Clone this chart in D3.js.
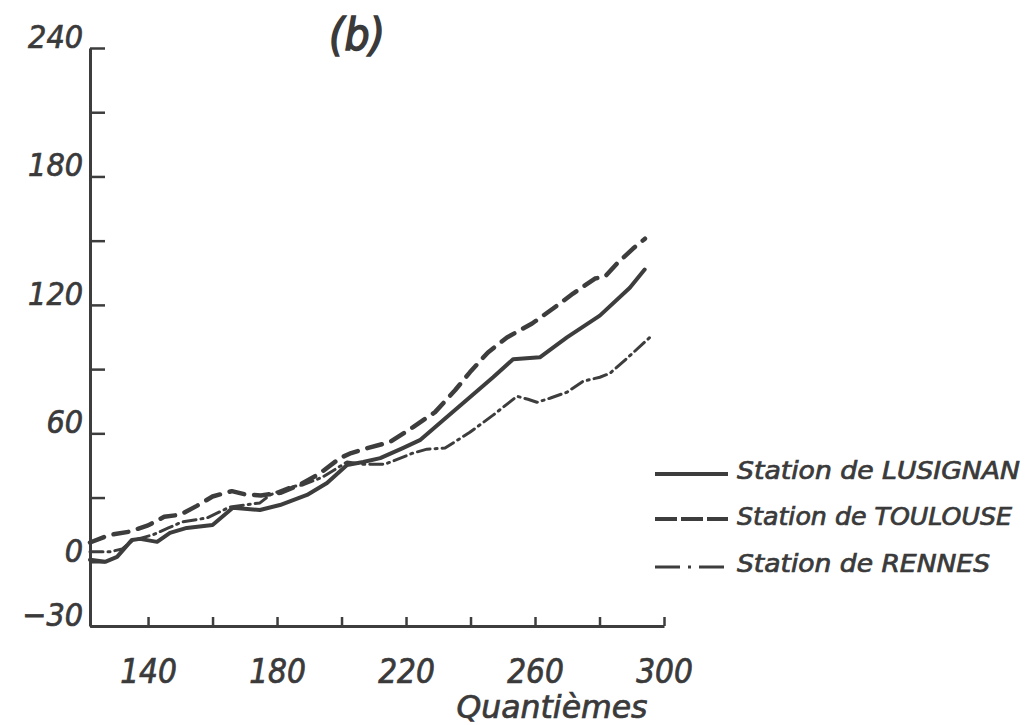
<!DOCTYPE html>
<html>
<head>
<meta charset="utf-8">
<script src="https://cdn.jsdelivr.net/npm/d3@7"></script>
<style>
  html, body { margin: 0; padding: 0; background: #fff; }
  svg { display: block; }
  text { font-family: "DejaVu Sans Condensed", "DejaVu Sans", "Liberation Sans", sans-serif; font-style: italic; fill: #3a3a3a; stroke: #3a3a3a; stroke-width: 0.7px; }
</style>
</head>
<body>
<svg id="chart" width="1029" height="725"></svg>
<script>
// ---- data ----
const xTicks = [140, 160, 180, 200, 220, 240, 260, 280, 300];
const xTickLabels = [140, 180, 220, 260, 300];
const yTicks = [-30, 0, 30, 60, 90, 120, 150, 180, 210, 240];
const yTickLabels = [-30, 0, 60, 120, 180, 240];

const seriesNames = ["Station de LUSIGNAN", "Station de TOULOUSE", "Station de RENNES"];

const lusignanX = [122, 126.7, 130.4, 135, 137.5, 142.8, 146.8, 152, 160, 166.3, 174.7, 180.9, 189.3, 195.5, 201.7, 206.7, 212, 219, 224.3, 231.5, 239.8, 247, 253.2, 261.5, 269.9, 280.1, 289.4, 294];
const lusignanY = [0.9, 0, 2.3, 10.2, 10.7, 9.3, 13.5, 15.8, 17.2, 25.2, 24.2, 26.5, 31.2, 36.8, 45.2, 46.6, 48.4, 53.1, 56.8, 66.1, 76.9, 86.2, 94.6, 95.5, 104.8, 115, 128, 136.5];

const toulouseX = [122, 128, 134, 140, 145, 150, 155, 160, 166, 170, 175, 181, 187, 193, 199.5, 203, 208, 215, 222.2, 229, 235.2, 239.8, 245.4, 251.3, 259.1, 265.6, 271.8, 278.6, 281.7, 285.4, 290.4, 294.1];
const toulouseY = [9, 12.5, 14, 17, 21, 22, 26, 30.5, 33, 31.5, 31, 32.2, 35.9, 41, 48.4, 50.8, 53.1, 55.9, 62.9, 69.9, 80.1, 88.5, 97.8, 104.8, 111.3, 118.3, 125.3, 132.3, 133.2, 139.3, 146.3, 150.9];

const rennesX = [122, 128.2, 132, 135.3, 141.5, 146.3, 150.5, 158.3, 165.4, 174.7, 177.8, 184, 188, 194.2, 201.7, 207, 213.5, 222.2, 226.5, 232.1, 239.8, 247, 254.4, 257.8, 260.6, 264.6, 269.9, 274.9, 280.1, 283.2, 288.5, 295.6];
const rennesY = [4.7, 4.7, 6, 10, 12.6, 15.8, 18.6, 20.5, 25.6, 27.5, 31.2, 34.9, 35.9, 39.6, 46.6, 45.5, 45.6, 50.8, 52.6, 53.1, 60.5, 68.5, 77.3, 75.9, 74.5, 76.4, 79.2, 84.3, 86.2, 88, 95, 104.8];

// ---- layout ----
const ink = "#3d3d3d";
const svg = d3.select("#chart");
const x = d3.scaleLinear().domain([122, 300]).range([90, 664]);
const y = d3.scaleLinear().domain([-30, 240]).range([626, 48]);

// y axis
const yAxis = d3.axisLeft(y)
  .tickValues(yTicks)
  .tickSize(-15)
  .tickSizeOuter(0)
  .tickPadding(7)
  .tickFormat(d => yTickLabels.includes(d) ? d3.format("")(d).replace("-", "\u2212") : "");
const gy = svg.append("g").attr("transform", `translate(${x(122)},0)`).call(yAxis);
gy.select(".domain").attr("stroke", ink).attr("stroke-width", 3);
gy.selectAll(".tick line").attr("stroke", ink).attr("stroke-width", 2.5);
gy.selectAll(".tick text")
  .attr("fill", ink)
  .style("font-size", "32px")
  .attr("y", -11);

// x axis
const xAxis = d3.axisBottom(x)
  .tickValues(xTicks)
  .tickSize(-9)
  .tickSizeOuter(0)
  .tickFormat(d => xTickLabels.includes(d) ? d : "");
const gx = svg.append("g").attr("transform", `translate(0,${y(-30)})`).call(xAxis);
gx.select(".domain").attr("stroke", ink).attr("stroke-width", 3);
gx.selectAll(".tick line").attr("stroke", ink).attr("stroke-width", 2.5);
gx.selectAll(".tick text")
  .attr("fill", ink)
  .style("font-size", "33px")
  .attr("y", 57)
  .attr("dy", null);

// axis title
svg.append("text")
  .attr("x", 552).attr("y", 718)
  .attr("text-anchor", "middle")
  .attr("textLength", 191).attr("lengthAdjust", "spacingAndGlyphs")
  .style("font-size", "32px")
  .text("Quantièmes");

// panel label
svg.append("text")
  .attr("x", 357).attr("y", 50)
  .attr("text-anchor", "middle")
  .style("font-size", "44px")
  .style("stroke-width", "1.5px")
  .text("(b)");

// lines
const styles = [
  { dash: null, width: 4, legendDash: null },
  { dash: "15,10", width: 4.5, legendDash: "22,4" },
  { dash: "13,5,2,5", width: 3, legendDash: "25,8,3,8" }
];
const seriesData = [
  d3.zip(lusignanX, lusignanY),
  d3.zip(toulouseX, toulouseY),
  d3.zip(rennesX, rennesY)
];
const line = d3.line().x(d => x(d[0])).y(d => y(d[1])).curve(d3.curveLinear);

seriesData.forEach((data, i) => {
  svg.append("path")
    .datum(data)
    .attr("d", line)
    .attr("fill", "none")
    .attr("stroke", ink)
    .attr("stroke-width", styles[i].width)
    .attr("stroke-linecap", "round")
    .attr("stroke-linejoin", "round")
    .attr("stroke-dasharray", styles[i].dash);
});

// legend
const legendY = [474, 519, 567];
const textY = [479, 525, 572];
const textLen = [283, 275, 253];
seriesNames.forEach((name, i) => {
  svg.append("line")
    .attr("x1", 655).attr("x2", 728)
    .attr("y1", legendY[i]).attr("y2", legendY[i])
    .attr("stroke", ink)
    .attr("stroke-width", i === 2 ? 3 : 4)
    .attr("stroke-dasharray", styles[i].legendDash);
  svg.append("text")
    .attr("x", 737).attr("y", textY[i])
    .attr("textLength", textLen[i]).attr("lengthAdjust", "spacingAndGlyphs")
    .style("font-size", "25px")
    .text(name);
});
</script>
</body>
</html>
